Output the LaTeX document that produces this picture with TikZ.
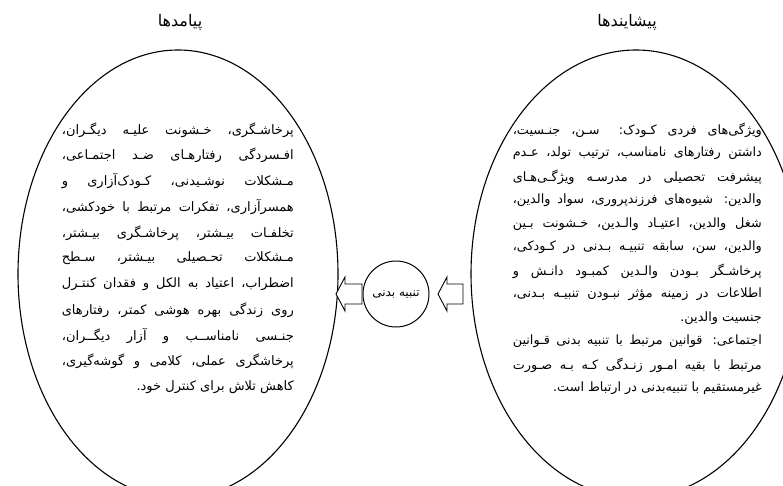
\documentclass[tikz,border=0pt]{standalone}
\usepackage{fontspec}
\usetikzlibrary{shapes.geometric}
\newfontfamily\arabicfont[Script=Arabic]{DejaVu Sans}
\TeXXeTstate=1
\newcommand\jl[2]{\makebox[#1][s]{#2}}
\begin{document}
\begin{tikzpicture}[x=1pt,y=-1pt,
  bigoval/.style={draw, ellipse, line width=1.1pt, minimum height=448pt, inner sep=0pt},
  titletext/.style={inner sep=0pt, font=\arabicfont\fontsize{16}{18}\selectfont},
  ltext/.style={anchor=east, inner sep=0pt, font=\arabicfont\fontsize{13}{15}\selectfont},
  rtext/.style={anchor=east, inner sep=0pt, font=\arabicfont\fontsize{12.8}{15}\selectfont},
  hub/.style={draw, circle, line width=1pt, minimum size=66pt, inner sep=0pt, font=\arabicfont\fontsize{12}{14}\selectfont},
  blockarrow/.style={draw, line width=0.9pt, fill=white, line join=miter}
]
\useasboundingbox (0,0) rectangle (783,486);
\clip (0,0) rectangle (783,486);
\fill[white] (0,0) rectangle (783,486);

% titles
\node[titletext] (tL) at (180,22) {\beginR پیامدها\endR};
\node[titletext] (tR) at (627,22) {\beginR پیشایندها\endR};

% ellipses
\node[bigoval, minimum width=320pt] (L) at (178,274) {};
\node[bigoval, minimum width=330pt] (R) at (636,274) {};

% centre circle
\node[hub] (C) at (396,294) {\beginR تنبیه بدنی\endR};

% block arrows (pointing left)
\draw[blockarrow] (463,284) -- (447,284) -- (447,277) -- (438,294) -- (447,311) -- (447,304) -- (463,304) -- cycle;
\draw[blockarrow] (362,284) -- (345,284) -- (345,277) -- (336,294) -- (345,311) -- (345,304) -- (362,304) -- cycle;

% right text
\def\rx{762}
\def\rw{249pt}
\node[rtext] (r1) at (\rx,130.0) {\jl{\rw}{\beginR ویژگی‌های فردی کـودک: سـن، جنـسیت،\endR}};
\node[rtext] (r2) at (\rx,153.5) {\jl{\rw}{\beginR داشتن رفتارهای نامناسب، ترتیب تولد، عـدم\endR}};
\node[rtext] (r3) at (\rx,177.0) {\jl{\rw}{\beginR پیشرفت تحصیلی در مدرسـه ویژگـی‌هـای\endR}};
\node[rtext] (r4) at (\rx,200.5) {\jl{\rw}{\beginR والدین: شیوه‌های فرزندپروری، سواد والدین،\endR}};
\node[rtext] (r5) at (\rx,224.0) {\jl{\rw}{\beginR شغل والدین، اعتیـاد والـدین، خـشونت بـین\endR}};
\node[rtext] (r6) at (\rx,247.5) {\jl{\rw}{\beginR والدین، سن، سابقه تنبیـه بـدنی در کـودکی،\endR}};
\node[rtext] (r7) at (\rx,271.0) {\jl{\rw}{\beginR پرخاشـگر بـودن والـدین کمبـود دانـش و\endR}};
\node[rtext] (r8) at (\rx,294.5) {\jl{\rw}{\beginR اطلاعات در زمینه مؤثر نبـودن تنبیـه بـدنی،\endR}};
\node[rtext] (r9) at (\rx,318.0) {\beginR جنسیت والدین.\endR};
\node[rtext] (r10) at (\rx,341.5) {\jl{\rw}{\beginR اجتماعی: قوانین مرتبط با تنبیه بدنی قـوانین\endR}};
\node[rtext] (r11) at (\rx,365.0) {\jl{\rw}{\beginR مرتبط با بقیه امـور زنـدگی کـه بـه صـورت\endR}};
\node[rtext] (r12) at (\rx,388.5) {\beginR غیرمستقیم با تنبیه‌بدنی در ارتباط است.\endR};

% left text
\def\lx{294}
\def\lw{232pt}
\node[ltext] (l1) at (\lx,130.0) {\jl{\lw}{\beginR پرخاشـگری، خـشونت علیـه دیگـران،\endR}};
\node[ltext] (l2) at (\lx,155.7) {\jl{\lw}{\beginR افـسردگی رفتارهـای ضـد اجتمـاعی،\endR}};
\node[ltext] (l3) at (\lx,181.4) {\jl{\lw}{\beginR مـشکلات نوشـیدنی، کـودک‌آزاری و\endR}};
\node[ltext] (l4) at (\lx,207.1) {\jl{\lw}{\beginR همسرآزاری، تفکرات مرتبط با خودکشی،\endR}};
\node[ltext] (l5) at (\lx,232.8) {\jl{\lw}{\beginR تخلفـات بیـشتر، پرخاشـگری بیـشتر،\endR}};
\node[ltext] (l6) at (\lx,258.5) {\jl{\lw}{\beginR مـشکلات تحـصیلی بیـشتر، سـطح\endR}};
\node[ltext] (l7) at (\lx,284.2) {\jl{\lw}{\beginR اضطراب، اعتیاد به الکل و فقدان کنتـرل\endR}};
\node[ltext] (l8) at (\lx,309.9) {\jl{\lw}{\beginR روی زندگی بهره هوشی کمتر، رفتارهای\endR}};
\node[ltext] (l9) at (\lx,335.6) {\jl{\lw}{\beginR جنـسی نامناســب و آزار دیگــران،\endR}};
\node[ltext] (l10) at (\lx,361.3) {\jl{\lw}{\beginR پرخاشگری عملی، کلامی و گوشه‌گیری،\endR}};
\node[ltext] (l11) at (\lx,387.0) {\beginR کاهش تلاش برای کنترل خود.\endR};
\end{tikzpicture}
\end{document}
